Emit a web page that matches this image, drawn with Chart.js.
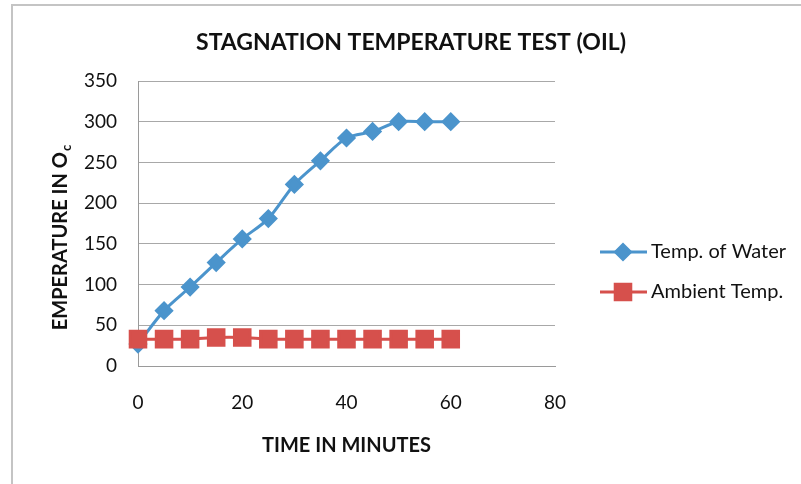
<!DOCTYPE html>
<html>
<head>
<meta charset="utf-8">
<script src="https://cdn.jsdelivr.net/npm/chart.js@4.4.1/dist/chart.umd.min.js"></script>
<style>
  html, body { margin: 0; padding: 0; background: #fff; }
  #wrap { width: 801px; height: 484px; }
</style>
</head>
<body>
<div id="wrap"><canvas id="chart" width="801" height="484"></canvas></div>
<script>
// chart data
const minutes = [0, 5, 10, 15, 20, 25, 30, 35, 40, 45, 50, 55, 60];
const waterTemp = [27, 68, 97, 127, 156, 181, 223, 252, 280, 288, 300, 300, 300];
const ambientTemp = [33, 33, 33, 35, 35, 33, 33, 33, 33, 33, 33, 33, 33];
const seriesNames = ['Temp. of Water', 'Ambient Temp.'];
const chartTitle = 'STAGNATION TEMPERATURE TEST (OIL)';
const xTitle = 'TIME IN MINUTES';
const yTitle = 'EMPERATURE IN O';
const yTitleSub = 'c';

const blue = '#4b94cc';
const red = '#d6504c';
const FONT = 'Lato, "Open Sans", sans-serif';

function toPoints(ys) {
    return minutes.map((x, i) => ({ x: x, y: ys[i] }));
}

// frame, titles and legend drawn around the plot
const decorations = {
    id: 'decorations',
    beforeDraw(chart) {
        const ctx = chart.ctx;
        ctx.save();
        ctx.fillStyle = '#fff';
        ctx.fillRect(0, 0, chart.width, chart.height);
        ctx.strokeStyle = '#c4c4c4';
        ctx.lineWidth = 2;
        ctx.beginPath();
        ctx.moveTo(12, chart.height);
        ctx.lineTo(12, 5);
        ctx.lineTo(chart.width, 5);
        ctx.stroke();
        ctx.restore();
    },
    afterDraw(chart) {
        const ctx = chart.ctx;
        const area = chart.chartArea;
        ctx.save();
        ctx.fillStyle = '#111';
        ctx.textBaseline = 'middle';

        // main title
        ctx.textAlign = 'center';
        ctx.font = 'bold 23px ' + FONT;
        ctx.fillText(chartTitle, 411, 43);

        // x title
        ctx.font = 'bold 20px ' + FONT;
        ctx.fillText(xTitle, (area.left + area.right) / 2, 446);

        // y title with subscript
        ctx.translate(61, 238);
        ctx.rotate(-Math.PI / 2);
        ctx.textAlign = 'left';
        ctx.font = 'bold 20px ' + FONT;
        const w1 = ctx.measureText(yTitle).width;
        ctx.font = 'bold 13px ' + FONT;
        const w2 = ctx.measureText(yTitleSub).width;
        const start = -(w1 + w2) / 2;
        ctx.font = 'bold 20px ' + FONT;
        ctx.fillText(yTitle, start, 0);
        ctx.font = 'bold 13px ' + FONT;
        ctx.fillText(yTitleSub, start + w1 + 1, 6);
        ctx.setTransform(1, 0, 0, 1, 0, 0);

        // legend
        const legendY = [252, 292];
        chart.data.datasets.forEach((ds, i) => {
            const y = legendY[i];
            ctx.strokeStyle = ds.borderColor;
            ctx.lineWidth = ds.borderWidth;
            ctx.beginPath();
            ctx.moveTo(600, y);
            ctx.lineTo(647, y);
            ctx.stroke();
            ctx.fillStyle = ds.pointBackgroundColor;
            ctx.strokeStyle = ds.pointBorderColor;
            Chart.helpers.drawPoint(ctx, {
                pointStyle: ds.pointStyle,
                radius: ds.pointRadius,
                rotation: 0,
                borderWidth: 1
            }, 623, y);
            ctx.fillStyle = '#111';
            ctx.font = '20px ' + FONT;
            ctx.textAlign = 'left';
            ctx.fillText(ds.label, 651, y);
        });
        ctx.restore();
    }
};

const ctx = document.getElementById('chart').getContext('2d');
const chart = new Chart(ctx, {
    type: 'line',
    data: {
        datasets: [{
            label: seriesNames[0],
            data: toPoints(waterTemp),
            borderColor: blue,
            backgroundColor: blue,
            borderWidth: 3,
            pointStyle: 'rectRot',
            pointRadius: 7.5,
            pointBackgroundColor: blue,
            pointBorderColor: blue,
            tension: 0.3,
            clip: false,
            order: 1
        }, {
            label: seriesNames[1],
            data: toPoints(ambientTemp),
            borderColor: red,
            backgroundColor: red,
            borderWidth: 3,
            pointStyle: 'rect',
            pointRadius: 11,
            pointBackgroundColor: red,
            pointBorderColor: red,
            tension: 0.3,
            clip: false,
            order: 0
        }]
    },
    options: {
        responsive: false,
        animation: false,
        devicePixelRatio: 1,
        layout: {
            padding: { left: 0, top: 81, right: 246, bottom: 0 }
        },
        plugins: {
            legend: { display: false },
            title: { display: false },
            tooltip: { enabled: false }
        },
        scales: {
            x: {
                type: 'linear',
                min: 0,
                max: 80,
                ticks: {
                    stepSize: 20,
                    padding: 25,
                    color: '#111',
                    font: { family: FONT, size: 19 }
                },
                grid: { display: false, drawTicks: false },
                border: { display: true, color: '#9a9a9a', width: 1 },
                afterFit(scale) { scale.height = 118; }
            },
            y: {
                min: 0,
                max: 350,
                ticks: {
                    stepSize: 50,
                    padding: 21,
                    color: '#111',
                    font: { family: FONT, size: 19 }
                },
                grid: { color: '#a8a8a8', lineWidth: 1, drawTicks: false },
                border: { display: true, color: '#9a9a9a', width: 1 },
                afterFit(scale) { scale.width = 138; }
            }
        }
    },
    plugins: [decorations]
});
</script>
</body>
</html>
